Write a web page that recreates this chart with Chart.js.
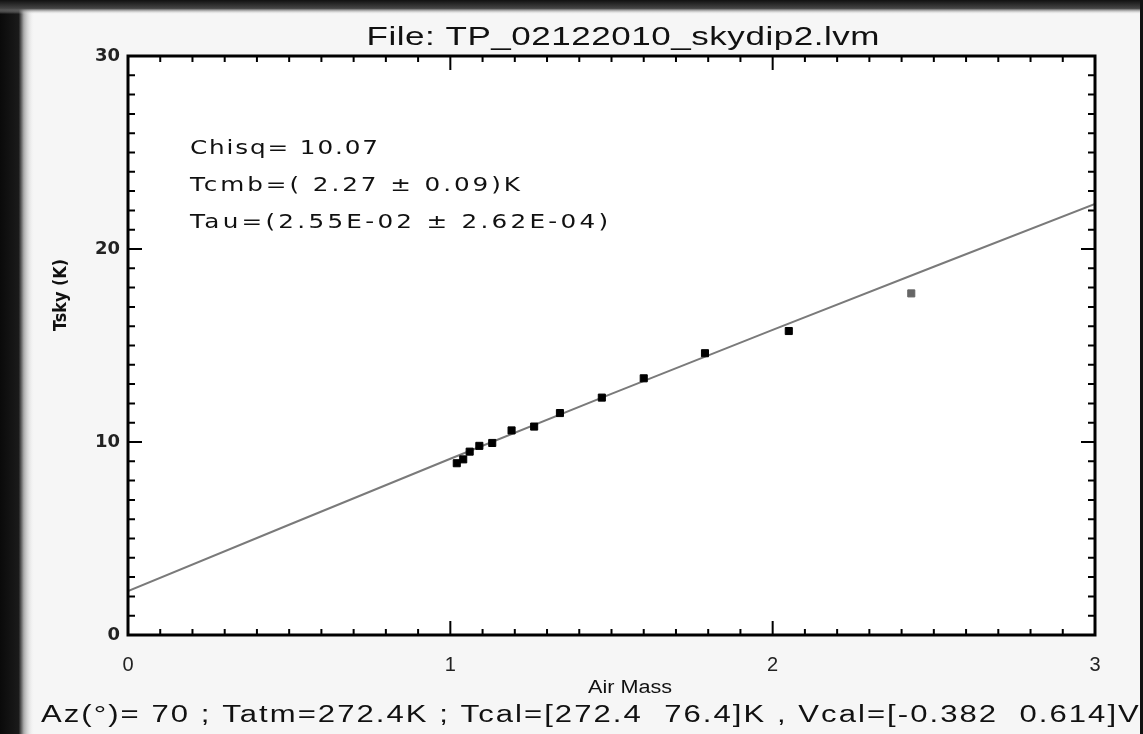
<!DOCTYPE html>
<html>
<head>
<meta charset="utf-8">
<script src="https://cdn.jsdelivr.net/npm/chart.js@4.4.1/dist/chart.umd.min.js"></script>
<style>
  html, body { margin: 0; padding: 0; background: #ffffff; }
  #wrap { position: relative; width: 1143px; height: 734px; }
  canvas { display: block; }
</style>
</head>
<body>
<div id="wrap"><canvas id="c" width="1143" height="734"></canvas></div>
<script>
// ---- data ----
const airMass = [1.02, 1.04, 1.06, 1.09, 1.13, 1.19, 1.26, 1.34, 1.47, 1.60, 1.79, 2.05, 2.43];
const tSky    = [8.9, 9.1, 9.5, 9.8, 9.95, 10.6, 10.8, 11.5, 12.3, 13.3, 14.6, 15.75, 17.7];
const fitAirMass = [0, 1, 2, 3];
const fitTSky    = [2.27, 9.13, 15.81, 22.33];
const xTicks = [0, 1, 2, 3];
const yTicks = [0, 10, 20, 30];

const titleText = 'File: TP_02122010_skydip2.lvm';
const xTitle = 'Air Mass';
const yTitle = 'Tsky (K)';
const fitLines = ['Chisq= 10.07', 'Tcmb=( 2.27 \u00b1 0.09)K', 'Tau=(2.55E-02 \u00b1 2.62E-04)'];
const footer = 'Az(\u00b0)= 70 ; Tatm=272.4K ; Tcal=[272.4  76.4]K , Vcal=[-0.382  0.614]V';

// draw text stretched to a given width: horizontal scale (capped) + letter spacing
function fitText(ctx, text, x, y, width, align, maxScale) {
  maxScale = maxScale || 1.25;
  ctx.letterSpacing = '0px';
  const w = ctx.measureText(text).width;
  let sx = Math.min(maxScale, width / w);
  const n = Math.max(1, text.length - 1);
  const sp = Math.max(0, (width / sx - w) / n);
  let x0 = x;
  if (align === 'center') x0 = x - width / 2;
  ctx.save();
  ctx.translate(x0, y);
  ctx.scale(sx, 1);
  ctx.letterSpacing = sp.toFixed(2) + 'px';
  ctx.textAlign = 'left';
  ctx.fillText(text, 0, 0);
  ctx.restore();
  ctx.letterSpacing = '0px';
}

const decor = {
  id: 'decor',
  beforeDraw(chart) {
    const ctx = chart.ctx;
    ctx.save();
    ctx.fillStyle = '#f6f6f6';
    ctx.fillRect(0, 0, chart.width, chart.height);
    // dark photo edges
    let g = ctx.createLinearGradient(0, 0, 34, 0);
    g.addColorStop(0, '#0a0a0a'); g.addColorStop(0.55, '#1a1a1a'); g.addColorStop(0.7, '#aaaaaa'); g.addColorStop(1, 'rgba(240,240,240,0)');
    ctx.fillStyle = g; ctx.fillRect(0, 0, 34, chart.height);
    g = ctx.createLinearGradient(0, 0, 0, 14);
    g.addColorStop(0, '#111'); g.addColorStop(0.6, '#444'); g.addColorStop(1, 'rgba(220,220,220,0)');
    ctx.fillStyle = g; ctx.fillRect(0, 0, chart.width, 14);
    ctx.fillStyle = '#111'; ctx.fillRect(chart.width - 3, 0, 3, chart.height);
    const a = chart.chartArea;
    ctx.fillStyle = '#ffffff';
    ctx.fillRect(a.left, a.top, a.right - a.left, a.bottom - a.top);
    ctx.restore();
  },
  afterDatasetsDraw(chart) {
    const ctx = chart.ctx;
    const a = chart.chartArea;
    const xs = chart.scales.x, ys = chart.scales.y;
    ctx.save();
    ctx.strokeStyle = '#000';
    // frame
    ctx.lineWidth = 3;
    ctx.strokeRect(a.left, a.top, a.right - a.left, a.bottom - a.top);
    // ticks (inward, on all four sides)
    ctx.lineWidth = 2;
    for (let i = 0; i <= 30; i++) {
      const v = i / 10;
      const px = xs.getPixelForValue(v);
      const len = (i % 10 === 0) ? 14 : 6;
      ctx.beginPath();
      ctx.moveTo(px, a.bottom); ctx.lineTo(px, a.bottom - len);
      ctx.moveTo(px, a.top); ctx.lineTo(px, a.top + len);
      ctx.stroke();
    }
    for (let i = 0; i <= 30; i++) {
      const py = ys.getPixelForValue(i);
      const len = (i % 10 === 0) ? 14 : 7;
      ctx.beginPath();
      ctx.moveTo(a.left, py); ctx.lineTo(a.left + len, py);
      ctx.moveTo(a.right, py); ctx.lineTo(a.right - len, py);
      ctx.stroke();
    }
    // texts
    ctx.fillStyle = '#111';
    ctx.textBaseline = 'middle';
    ctx.font = '25px "Liberation Sans", Arial, sans-serif';
    fitText(ctx, titleText, 623, 38, 513, 'center', 1.4);
    ctx.font = '19px "DejaVu Sans", sans-serif';
    fitText(ctx, fitLines[0], 190, 149, 188, 'left', 1.3);
    fitText(ctx, fitLines[1], 190, 186, 330, 'left', 1.3);
    fitText(ctx, fitLines[2], 190, 223, 418, 'left', 1.3);
    ctx.font = '18px "Liberation Sans", Arial, sans-serif';
    fitText(ctx, xTitle, 630, 688, 84, 'center', 1.3);
    ctx.font = '23px "Liberation Sans", Arial, sans-serif';
    fitText(ctx, footer, 590, 716, 1098, 'center', 1.35);
    ctx.save();
    ctx.translate(62, 295);
    ctx.rotate(-Math.PI / 2);
    ctx.font = 'bold 17px "DejaVu Sans", sans-serif';
    fitText(ctx, yTitle, 0, 0, 72, 'center', 1.1);
    ctx.restore();
    ctx.restore();
  }
};

new Chart(document.getElementById('c'), {
  type: 'scatter',
  data: {
    datasets: [
      {
        label: 'fit',
        type: 'line',
        data: fitAirMass.map((x, i) => ({ x, y: fitTSky[i] })),
        borderColor: '#7a7a7a',
        borderWidth: 2,
        pointRadius: 0,
        tension: 0.4,
        fill: false,
        order: 2
      },
      {
        label: 'Tsky',
        data: airMass.map((x, i) => ({ x, y: tSky[i] })),
        pointStyle: 'rect',
        pointRadius: 5,
        pointBackgroundColor: airMass.map((x, i) => i === airMass.length - 1 ? '#666' : '#000'),
        pointBorderColor: airMass.map((x, i) => i === airMass.length - 1 ? '#666' : '#000'),
        pointBorderWidth: 1,
        order: 1
      }
    ]
  },
  options: {
    responsive: false,
    animation: false,
    layout: { padding: { left: 0, top: 56, right: 48, bottom: 0 } },
    plugins: { legend: { display: false }, title: { display: false }, tooltip: { enabled: false } },
    scales: {
      x: {
        type: 'linear', min: 0, max: 3,
        afterBuildTicks(s) { s.ticks = xTicks.map(v => ({ value: v })); },
        afterFit(s) { s.height = 99; },
        grid: { display: false, drawTicks: false },
        border: { display: false },
        ticks: { color: '#222', padding: 18, font: { size: 20, family: 'Liberation Sans' } }
      },
      y: {
        type: 'linear', min: 0, max: 30,
        afterBuildTicks(s) { s.ticks = yTicks.map(v => ({ value: v })); },
        afterFit(s) { s.width = 128; },
        grid: { display: false, drawTicks: false },
        border: { display: false },
        ticks: { color: '#222', padding: 8, font: { size: 18, family: 'DejaVu Sans', weight: 'bold' } }
      }
    }
  },
  plugins: [decor]
});
</script>
</body>
</html>
